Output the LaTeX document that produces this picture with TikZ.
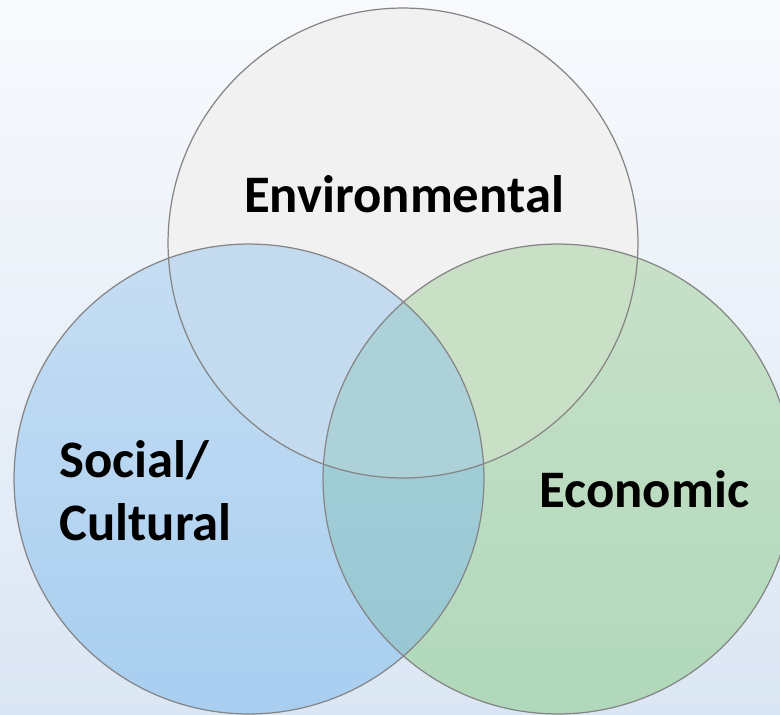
\documentclass[tikz,border=0pt]{standalone}
\usepackage{fontspec}
\setmainfont{Carlito}
\definecolor{bgtop}{HTML}{F8FAFD}
\definecolor{bgbot}{HTML}{DBE6F4}
\definecolor{envfill}{HTML}{F1F1F1}
\definecolor{soctop}{HTML}{C6DEF3}
\definecolor{socbot}{HTML}{A8CEF0}
\definecolor{ecotop}{HTML}{C8E1C8}
\definecolor{ecobot}{HTML}{B0D8BA}
\definecolor{envsoc}{HTML}{C4DAEF}
\definecolor{enveco}{HTML}{C9E0C6}
\definecolor{soecotop}{HTML}{A9D0D8}
\definecolor{soecobot}{HTML}{96C7D3}
\definecolor{allthree}{HTML}{ACD1D8}
\definecolor{rimgray}{HTML}{858585}
\begin{document}
\begin{tikzpicture}[x=0.02cm,y=-0.02cm]
	\tikzset{label/.style = {font=\fontsize{30}{35.3}\selectfont\bfseries, inner sep=0pt},
		rim/.style = {draw=rimgray, line width=0.7pt}}

	% background
	\shade[top color=bgtop, bottom color=bgbot] (0,0) rectangle (780,714);
	\useasboundingbox (0,0) rectangle (780,714);

	\coordinate (E) at (403,243);
	\coordinate (S) at (249,479);
	\coordinate (C) at (558,479);

	\fill[envfill] (E) circle (4.7cm);
	\shade[top color=soctop, bottom color=socbot] (S) circle (4.7cm);
	\shade[top color=ecotop, bottom color=ecobot] (C) circle (4.7cm);

	% overlaps
	\begin{scope}
		\clip (E) circle (4.7cm);
		\fill[envsoc] (S) circle (4.7cm);
		\fill[enveco] (C) circle (4.7cm);
	\end{scope}
	\begin{scope}
		\clip (S) circle (4.7cm);
		\shade[top color=soecotop, bottom color=soecobot] (C) circle (4.7cm);
		\clip (E) circle (4.7cm);
		\fill[allthree] (C) circle (4.7cm);
	\end{scope}

	\draw[rim] (E) circle (4.7cm);
	\draw[rim] (S) circle (4.7cm);
	\draw[rim] (C) circle (4.7cm);

	\node[label, anchor=base] (env) at (404,212) {Environmental};
	\node[label, anchor=base west, align=left] (soc) at (59,540) {Social/\\Cultural};
	\node[label, anchor=base west] (eco) at (539,507) {Economic};

\end{tikzpicture}
\end{document}
